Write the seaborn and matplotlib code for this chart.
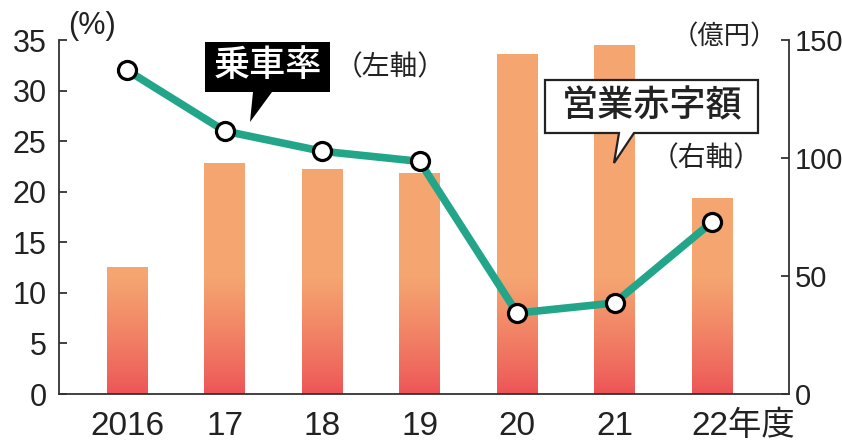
import numpy as np
import matplotlib
matplotlib.use("Agg")
import matplotlib.pyplot as plt
import matplotlib.transforms as mtrans
from matplotlib.patches import Polygon
from matplotlib import font_manager as fm
import seaborn as sns

# data
years = ["2016", "17", "18", "19", "20", "21", "22年度"]
deficit = [54, 98, 95.5, 93.5, 144, 148, 83]      # 営業赤字額 (億円), right axis
ride_rate = [32, 26, 24, 23, 8, 9, 17]            # 乗車率 (%), left axis

sns.set_style("white")
names = {f.name for f in fm.fontManager.ttflist}
num_font = "Liberation Sans Narrow" if "Liberation Sans Narrow" in names else "Liberation Sans"
jp_font = "Noto Sans CJK JP"
plt.rcParams["font.family"] = [num_font, jp_font, "DejaVu Sans"]

W, H = 842, 443
fig = plt.figure(figsize=(W / 100, H / 100), dpi=100)
fig.patch.set_facecolor("white")


def fx(x):
    return x / W


def fy(y):
    return 1 - y / H


ax = fig.add_axes([fx(59), fy(394), (789 - 59) / W, (394 - 40) / H])
ax2 = ax.twinx()

# bars on the right axis
pos = list(range(len(years)))
sns.barplot(x=pos, y=deficit, ax=ax2, color="#F4A46C", width=0.42,
            native_scale=True, linewidth=0, saturation=1)

# gradient fill of each bar (red at base -> orange)
c_bot = np.array([0.93, 0.32, 0.34])
c_top = np.array([0.96, 0.65, 0.44])
for bar in ax2.patches:
    x0, w, h = bar.get_x(), bar.get_width(), bar.get_height()
    yy = np.linspace(h, 0, 200)
    t = np.clip(yy / 50.0, 0, 1) ** 0.8
    img = (c_bot[None, :] * (1 - t[:, None]) + c_top[None, :] * t[:, None])[:, None, :]
    im = ax2.imshow(img, extent=(x0, x0 + w, 0, h), aspect="auto", zorder=2,
                    interpolation="bilinear")
    im.set_clip_path(bar)

# line on the left axis
sns.lineplot(x=pos, y=ride_rate, ax=ax, color="#23A58A", linewidth=5.5,
             marker="o", markersize=13, markerfacecolor="white",
             markeredgecolor="black", markeredgewidth=2.3, zorder=5)

ax.set_zorder(ax2.get_zorder() + 1)
ax.patch.set_visible(False)

ax.set_xlim(-0.70, 6.79)
ax.set_ylim(0, 35)
ax2.set_ylim(0, 150)
ax.set_yticks(range(0, 36, 5))
ax2.set_yticks([0, 50, 100, 150])
ax.set_xticks(pos)
ax.set_xticklabels(years)
ax.set_xlabel("")
ax.set_ylabel("")
ax2.set_ylabel("")

spine_c = "#333333"
for a in (ax, ax2):
    for s in a.spines.values():
        s.set_visible(False)
ax.spines["left"].set_visible(True)
ax.spines["bottom"].set_visible(True)
ax2.spines["right"].set_visible(True)
for s in (ax.spines["left"], ax.spines["bottom"], ax2.spines["right"]):
    s.set_color(spine_c)
    s.set_linewidth(1.3)

ax.tick_params(axis="y", direction="in", length=6, width=1.3, color=spine_c,
               labelsize=22, labelcolor="#222222", pad=9)
ax2.tick_params(axis="y", direction="in", length=6, width=1.3, color=spine_c,
                labelsize=21, labelcolor="#222222", pad=4)
ax.tick_params(axis="x", length=0, labelsize=24, labelcolor="#222222", pad=12)

last = ax.get_xticklabels()[-1]
last.set_horizontalalignment("left")
last.set_transform(last.get_transform() +
                   mtrans.ScaledTranslation(-0.21, 0, fig.dpi_scale_trans))

# axis unit labels
fig.text(fx(68), fy(26), "(%)", fontsize=22, ha="left", va="center",
         color="#222222", family=[num_font, jp_font])
fig.text(fx(724), fy(37), "（億円）", fontsize=19, ha="center", va="center",
         color="#222222", family=jp_font)

# callout: 乗車率 (black box)
blk = [(205, 42), (330, 42), (330, 92), (272, 92), (250, 122), (253, 92), (205, 92)]
fig.patches.append(Polygon([(fx(x), fy(y)) for x, y in blk], closed=True,
                           transform=fig.transFigure, fc="black", ec="black",
                           lw=0, zorder=10))
fig.text(fx(268), fy(66), "乗車率", fontsize=26, ha="center", va="center",
         color="white", family=jp_font, fontweight="medium", zorder=11)
fig.text(fx(390), fy(67), "（左軸）", fontsize=20, ha="center", va="center",
         color="#222222", family=jp_font, zorder=11)

# callout: 営業赤字額 (white box)
wht = [(545, 80), (758, 80), (758, 133), (634, 133), (614, 163), (619, 133), (545, 133)]
fig.patches.append(Polygon([(fx(x), fy(y)) for x, y in wht], closed=True,
                           transform=fig.transFigure, fc="white", ec="#222222",
                           lw=1.6, zorder=10))
fig.text(fx(652), fy(106), "営業赤字額", fontsize=26, ha="center", va="center",
         color="#222222", family=jp_font, fontweight="medium", zorder=11)
fig.text(fx(706), fy(158), "（右軸）", fontsize=20, ha="center", va="center",
         color="#222222", family=jp_font, zorder=11)

fig.savefig("out.png", dpi=100, facecolor="white")
plt.close(fig)
